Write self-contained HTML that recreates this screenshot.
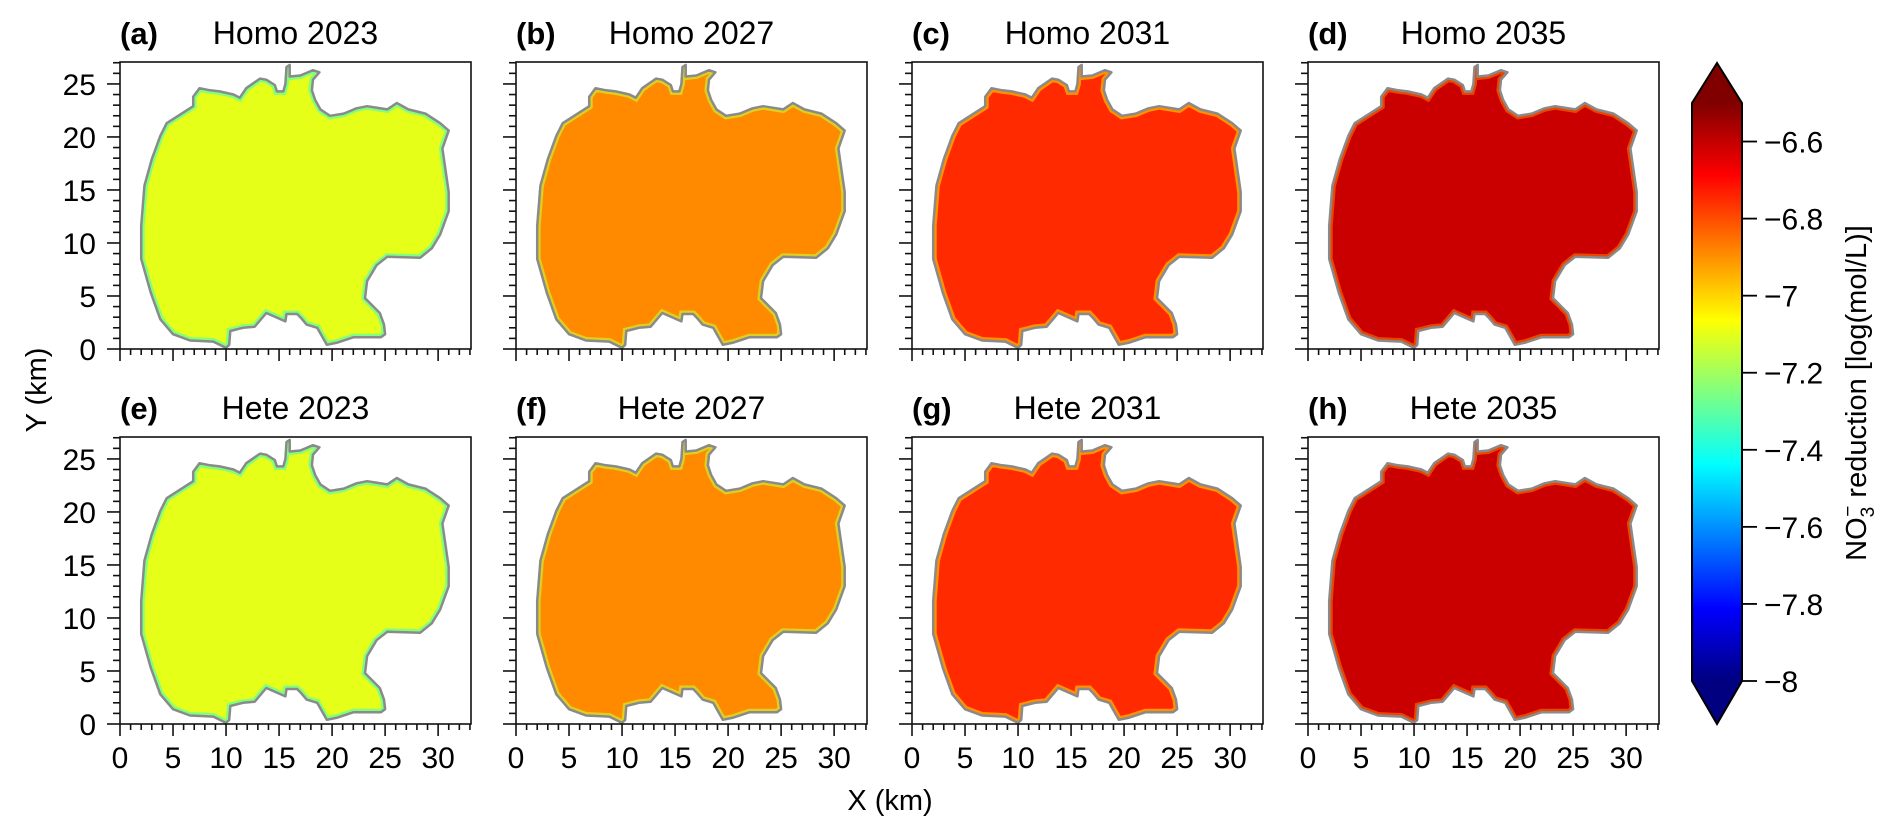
<!DOCTYPE html>
<html><head><meta charset="utf-8"><style>
html,body{margin:0;padding:0;background:#fff;}
svg{display:block;font-family:"Liberation Sans",Arial,sans-serif;}
</style></head><body>
<svg id="fig" width="1892" height="837" viewBox="0 0 1892 837" xmlns="http://www.w3.org/2000/svg">
<defs id="defs"></defs>
</svg>
<script>
const panelLabels = ["(a)","(b)","(c)","(d)","(e)","(f)","(g)","(h)"];
const panelTitles = ["Homo 2023","Homo 2027","Homo 2031","Homo 2035","Hete 2023","Hete 2027","Hete 2031","Hete 2035"];
const panelValues = [-7.1,-6.89,-6.75,-6.61,-7.1,-6.89,-6.75,-6.61];
const xTicks = [0,5,10,15,20,25,30];
const yTicks = [0,5,10,15,20,25];
const cbTicks = [-8,-7.8,-7.6,-7.4,-7.2,-7,-6.8,-6.6];
const cbTickLabels = ["\u22128","\u22127.8","\u22127.6","\u22127.4","\u22127.2","\u22127","\u22126.8","\u22126.6"];
const outlineX = [10.0,8.8,6.6,5.0,3.8,2.9,2.0,2.0,2.3,3.0,3.8,4.4,6.9,6.9,7.5,8.5,9.4,10.7,11.3,11.9,13.2,13.8,14.6,14.8,15.4,15.6,15.7,16.0,16.0,17.0,18.2,18.8,18.2,18.1,18.4,18.9,19.8,21.1,22.3,23.3,25.2,26.1,27.2,28.8,30.2,31.0,30.4,31.0,31.0,30.2,29.4,28.3,25.2,24.2,23.3,23.1,24.5,24.9,25.0,24.6,22.0,20.5,19.5,18.6,17.6,17.1,16.7,15.7,15.6,13.8,12.7,11.6,10.4,10.3];
const outlineY = [0.1,0.7,0.8,1.4,2.8,5.3,8.5,11.6,15.4,17.9,20.1,21.3,22.9,23.8,24.6,24.4,24.3,24.0,23.7,24.6,25.5,25.4,24.9,24.3,24.3,25.0,26.6,26.8,25.7,25.8,26.3,26.1,25.4,24.4,23.5,22.6,22.0,22.2,22.7,22.9,22.6,23.2,22.6,22.2,21.3,20.6,18.9,14.8,13.0,10.8,9.5,8.6,8.7,7.9,6.4,4.8,3.4,2.3,1.4,1.1,1.1,0.6,0.4,2.0,2.3,2.9,3.3,3.3,2.6,3.4,2.1,2.0,1.7,0.4];

const NS="http://www.w3.org/2000/svg";
const svg=document.getElementById('fig');
const defs=document.getElementById('defs');
function mk(tag,attrs,parent){const e=document.createElementNS(NS,tag);for(const k in attrs)e.setAttribute(k,attrs[k]);(parent||svg).appendChild(e);return e;}
const VMIN=-8,VMAX=-6.5;
function clip(v){return Math.max(0,Math.min(1,v));}
function jet(t){const r=clip(1.5-Math.abs(4*t-3)),g=clip(1.5-Math.abs(4*t-2)),b=clip(1.5-Math.abs(4*t-1));return `rgb(${Math.round(r*255)},${Math.round(g*255)},${Math.round(b*255)})`;}
function jetV(v){return jet((v-VMIN)/(VMAX-VMIN));}

const lefts=[120,516,912,1308], tops=[62,437], PW=351, PH=287;
const XMAX=33.1, YMAX=27.07;
for(let i=0;i<8;i++){
  const col=i%4,row=Math.floor(i/4);
  const L=lefts[col],T=tops[row];
  const sx=x=>L+x/XMAX*PW, sy=y=>T+PH-y/YMAX*PH;
  const g=mk('g',{});
  
  
  const lab=mk('text',{x:L,y:T-18,'font-size':31,'font-weight':'bold',fill:'#000'},g);
  lab.textContent=panelLabels[i];
  
  
  const ttl=mk('text',{x:L+PW/2,y:T-18,'font-size':32,'text-anchor':'middle',fill:'#000'},g);
  ttl.textContent=panelTitles[i];
  
  
  let pts=outlineX.map((x,k)=>sx(x).toFixed(1)+','+sy(outlineY[k]).toFixed(1)).join(' ');
  const cid='clip'+i;
  const cp=mk('clipPath',{id:cid},defs);mk('polygon',{points:pts},cp);
  const shape=mk('polygon',{points:pts,fill:jetV(panelValues[i]),stroke:'none'},g);
  
  
  const edge=mk('polygon',{points:pts,fill:'none',stroke:jetV(panelValues[i]-0.25),'stroke-width':7,'clip-path':`url(#${cid})`,opacity:0.6},g);
  
  
  const ol=mk('polygon',{points:pts,fill:'none',stroke:'#8a8a8a','stroke-width':2.5,'stroke-linejoin':'round'},g);
  
  
  const box=mk('rect',{x:L,y:T,width:PW,height:PH,fill:'none',stroke:'#111','stroke-width':1.6},g);
  
  
  for(let v=0;v<=33;v++){const major=v%5===0;mk('line',{x1:sx(v),x2:sx(v),y1:T+PH,y2:T+PH+(major?12:6),stroke:'#111','stroke-width':1.6},g);}
  if(row===1){xTicks.forEach(v=>{const t=mk('text',{x:sx(v),y:T+PH+44,'font-size':30,'text-anchor':'middle'},g);t.textContent=v;});}
  for(let v=0;v<=27;v++){const major=v%5===0;mk('line',{x1:L,x2:L-(major?13:7),y1:sy(v),y2:sy(v),stroke:'#111','stroke-width':1.6},g);}
  if(col===0){yTicks.forEach(v=>{const t=mk('text',{x:L-24,y:sy(v)+11,'font-size':30,'text-anchor':'end'},g);t.textContent=v;});}
}
const xt=mk('text',{x:890,y:810,'font-size':29,'text-anchor':'middle'});xt.textContent='X (km)';


const yt=mk('text',{x:0,y:0,'font-size':29,'text-anchor':'middle',transform:'translate(46,390) rotate(-90)'});yt.textContent='Y (km)';


const CBL=1692,CBW=50,CBT=103,CBB=681;
const cy=v=>CBB-(v-VMIN)/(VMAX-VMIN)*(CBB-CBT);
const grad=mk('linearGradient',{id:'jetg',x1:0,y1:1,x2:0,y2:0},defs);
for(let k=0;k<=40;k++){mk('stop',{offset:k/40,'stop-color':jet(k/40)},grad);}
const cb=mk('g',{});


mk('polygon',{points:`${CBL},${CBT} ${CBL+CBW/2},${CBT-40} ${CBL+CBW},${CBT}`,fill:jet(1)},cb);
mk('polygon',{points:`${CBL},${CBB} ${CBL+CBW/2},${CBB+43} ${CBL+CBW},${CBB}`,fill:jet(0)},cb);
mk('rect',{x:CBL,y:CBT,width:CBW,height:CBB-CBT,fill:'url(#jetg)'},cb);
mk('polygon',{points:`${CBL},${CBT} ${CBL+CBW/2},${CBT-40} ${CBL+CBW},${CBT} ${CBL+CBW},${CBB} ${CBL+CBW/2},${CBB+43} ${CBL},${CBB}`,fill:'none',stroke:'#000','stroke-width':2},cb);
cbTicks.forEach((v,k)=>{mk('line',{x1:CBL+CBW,x2:CBL+CBW+15,y1:cy(v),y2:cy(v),stroke:'#000','stroke-width':1.8},cb);
  const t=mk('text',{x:CBL+CBW+22,y:cy(v)+11,'font-size':30},cb);t.textContent=cbTickLabels[k];
  
  });
const cl=mk('text',{x:0,y:0,'font-size':29,'text-anchor':'middle',transform:'translate(1866,393) rotate(-90)'});


cl.innerHTML='NO<tspan dy="8" font-size="19">3</tspan><tspan dy="-20" dx="-10" font-size="19">\u2212</tspan><tspan dy="12"> reduction [log(mol/L)]</tspan>';
</script>
</body></html>
